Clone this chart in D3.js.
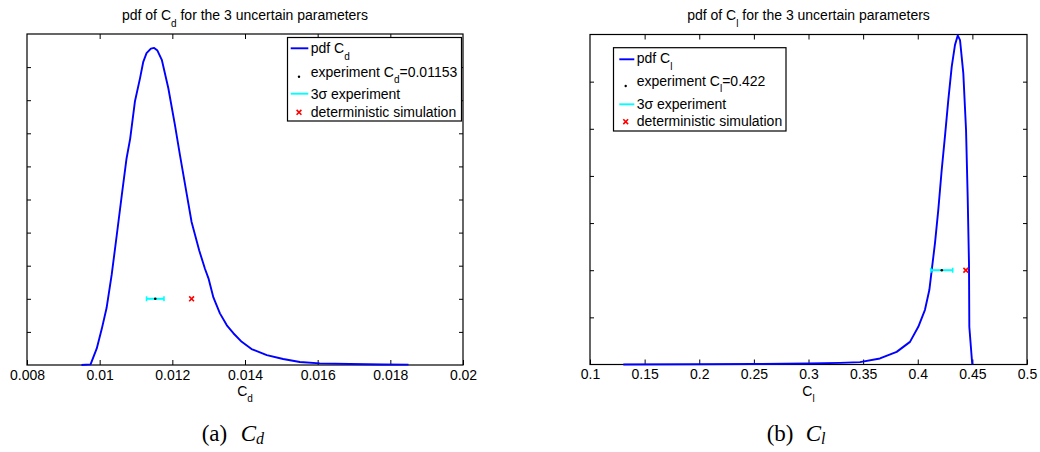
<!DOCTYPE html>
<html>
<head>
<meta charset="utf-8">
<script src="https://cdn.jsdelivr.net/npm/d3@7"></script>
<style>
  body { margin: 0; background: #fff; }
  svg { display: block; }
  text { font-family: "Liberation Sans", Arial, Helvetica, sans-serif; fill: #000; }
  .caption text, text.caption { font-family: "Liberation Serif", "Times New Roman", serif; }
</style>
</head>
<body>
<svg id="fig" width="1040" height="452"></svg>
<script>
// ---- C_d : sampled probability density ----
const cdValues = [0.0095, 0.00975, 0.00992, 0.01006, 0.01019, 0.01033, 0.01047, 0.01061, 0.01074,
  0.01084, 0.01097, 0.01111, 0.0112, 0.01129, 0.01141, 0.0115, 0.01159, 0.01171, 0.01189, 0.01207,
  0.01221, 0.0124, 0.01253, 0.01274, 0.0129, 0.013, 0.01313, 0.01331, 0.0135, 0.01368, 0.01391,
  0.01418, 0.0146, 0.01505, 0.01551, 0.01606, 0.01689, 0.0178, 0.0185];
const cdPdf = [0, 1, 25, 55, 86, 136, 196, 257, 312,
  342, 398, 433, 458, 471, 478, 479, 475, 461, 418, 363,
  317, 257, 216, 173, 145, 130, 102, 78, 60, 48, 35,
  24, 15, 9, 4.5, 2.5, 1.5, 0.8, 0.5];
const cdTicks = [0.008, 0.01, 0.012, 0.014, 0.016, 0.018, 0.02];
const cdTickLabels = ["0.008", "0.01", "0.012", "0.014", "0.016", "0.018", "0.02"];
const cdPdfTicks = [0, 50, 100, 150, 200, 250, 300, 350, 400, 450, 500];
const cdExperiment = 0.01153;
const cdThreeSigma = 0.00024;
const cdSimulation = 0.01253;
const cdMarkerLevel = 100;

// ---- C_l : sampled probability density ----
const clValues = [0.1305, 0.2, 0.25, 0.3, 0.3288, 0.3471, 0.3654, 0.3807, 0.3929, 0.4005, 0.4066,
  0.4106, 0.4128, 0.4158, 0.4188, 0.4219, 0.4249, 0.428, 0.4311, 0.4341, 0.4366, 0.4387, 0.4417,
  0.4442, 0.4457, 0.4469, 0.4472, 0.4499];
const clPdf = [0, 0.02, 0.05, 0.1, 0.17, 0.25, 0.64, 1.34, 2.4, 4.0, 5.8,
  7.9, 10.0, 12.9, 16.4, 20.6, 24.2, 28.1, 31.6, 33.9, 34.9, 34.4, 30.9,
  24.9, 17.8, 10.7, 4.0, 0];
const clTicks = [0.1, 0.15, 0.2, 0.25, 0.3, 0.35, 0.4, 0.45, 0.5];
const clTickLabels = ["0.1", "0.15", "0.2", "0.25", "0.3", "0.35", "0.4", "0.45", "0.5"];
const clPdfTicks = [0, 5, 10, 15, 20, 25, 30, 35];
const clExperiment = 0.422;
const clThreeSigma = 0.01;
const clSimulation = 0.444;
const clMarkerLevel = 10;

const svg = d3.select("#fig");

// Text with an optional subscript part: parts = [[text, isSub], ...]
function richText(g, x, y, parts, opts) {
  const o = Object.assign({ size: 14, subSize: 10, subShift: 6.5, anchor: "start" }, opts || {});
  const t = g.append("text").attr("x", x).attr("y", y)
    .attr("text-anchor", o.anchor).style("font-size", o.size + "px");
  let shifted = 0;
  parts.forEach(([s, sub]) => {
    const target = sub ? o.subShift : 0;
    t.append("tspan").attr("dy", target - shifted)
      .style("font-size", (sub ? o.subSize : o.size) + "px").text(s);
    shifted = target;
  });
  return t;
}

function drawPanel(p) {
  const g = svg.append("g");
  const x = d3.scaleLinear().domain([p.xTicks[0], p.xTicks[p.xTicks.length - 1]]).range([p.left, p.right]);
  const y = d3.scaleLinear().domain([0, p.yTicks[p.yTicks.length - 1]]).range([p.bottom, p.top]);
  const inner = p.yTicks.slice(1, -1);

  // Axes with inward ticks on all four sides
  const bottomAx = g.append("g").attr("transform", `translate(0,${p.bottom})`)
    .call(d3.axisBottom(x).tickValues(p.xTicks).tickFormat((d, i) => p.xLabels[i])
      .tickSizeInner(-5).tickSizeOuter(0).tickPadding(4.8));
  const topAx = g.append("g").attr("transform", `translate(0,${p.top})`)
    .call(d3.axisTop(x).tickValues(p.xTicks.slice(1, -1)).tickFormat("").tickSizeInner(-5).tickSizeOuter(0));
  const leftAx = g.append("g").attr("transform", `translate(${p.left},0)`)
    .call(d3.axisLeft(y).tickValues(inner).tickFormat("").tickSizeInner(-4).tickSizeOuter(0));
  const rightAx = g.append("g").attr("transform", `translate(${p.right},0)`)
    .call(d3.axisRight(y).tickValues(inner).tickFormat("").tickSizeInner(-4).tickSizeOuter(0));
  [bottomAx, topAx, leftAx, rightAx].forEach(a => {
    a.select(".domain").remove();
    a.selectAll(".tick line").attr("stroke", "#000").attr("stroke-width", 1);
  });
  bottomAx.selectAll(".tick text").style("font-size", "14px").attr("fill", "#000")
    .style("font-family", '"Liberation Sans", Arial, sans-serif');

  g.append("rect").attr("x", p.left).attr("y", p.top)
    .attr("width", p.right - p.left).attr("height", p.bottom - p.top)
    .attr("fill", "none").attr("stroke", "#000").attr("stroke-width", 1.2);

  // Density curve
  const pts = p.xs.map((v, i) => [v, p.ys[i]]);
  g.append("path").datum(pts)
    .attr("d", d3.line().x(d => x(d[0])).y(d => y(d[1])))
    .attr("fill", "none").attr("stroke", "#0000ff").attr("stroke-width", 1.9)
    .attr("stroke-linejoin", "round");

  // Experiment with 3-sigma bar, and deterministic simulation
  const ly = y(p.level);
  const x0 = x(p.exp - p.sigma), x1 = x(p.exp + p.sigma);
  g.append("line").attr("x1", x0).attr("x2", x1).attr("y1", ly).attr("y2", ly)
    .attr("stroke", "#00ffff").attr("stroke-width", 2);
  [x0, x1].forEach(cx => g.append("line").attr("x1", cx).attr("x2", cx)
    .attr("y1", ly - 2.5).attr("y2", ly + 2.5).attr("stroke", "#00ffff").attr("stroke-width", 1.6));
  g.append("circle").attr("cx", x(p.exp)).attr("cy", ly).attr("r", 1.3).attr("fill", "#000");
  cross(g, x(p.sim), ly);

  // Title and x label
  richText(g, (p.left + p.right) / 2, 20, [["pdf of C", false], [p.sub, true], [" for the 3 uncertain parameters", false]],
    { anchor: "middle", size: 14, subSize: 10, subShift: 6.5 });
  richText(g, (p.left + p.right) / 2, 395.5, [["C", false], [p.sub, true]],
    { anchor: "middle", size: 14, subSize: 10, subShift: 6 });

  // Legend
  const L = p.legend;
  g.append("rect").attr("x", L.x0).attr("y", L.y0).attr("width", L.x1 - L.x0).attr("height", L.y1 - L.y0)
    .attr("fill", "#fff").attr("stroke", "#000").attr("stroke-width", 1.2);
  g.append("line").attr("x1", L.lx0).attr("x2", L.lx1).attr("y1", L.my[0]).attr("y2", L.my[0])
    .attr("stroke", "#0000ff").attr("stroke-width", 1.9);
  g.append("circle").attr("cx", L.mx).attr("cy", L.my[1]).attr("r", 1.2).attr("fill", "#000");
  g.append("line").attr("x1", L.lx0).attr("x2", L.lx1).attr("y1", L.my[2]).attr("y2", L.my[2])
    .attr("stroke", "#00ffff").attr("stroke-width", 1.9);
  cross(g, L.mx, L.my[3]);
  const o = { size: 14, subSize: 10, subShift: 6.5 };
  richText(g, L.tx, L.ty[0], [["pdf C", false], [p.sub, true]], o);
  richText(g, L.tx, L.ty[1], [["experiment C", false], [p.sub, true], ["=" + p.expLabel, false]], o);
  richText(g, L.tx, L.ty[2], [["3\u03c3 experiment", false]], o);
  richText(g, L.tx, L.ty[3], [["deterministic simulation", false]], o);

  // Sub-figure caption
  const c = g.append("text").attr("class", "caption").attr("y", 440.7).style("font-size", "23px");
  c.append("tspan").attr("x", p.capX).text(p.capLabel);
  c.append("tspan").attr("x", p.capX + 39).style("font-style", "italic").text("C");
  c.append("tspan").attr("dy", 3.5).style("font-style", "italic").style("font-size", "16px").text(p.sub);
}

function cross(g, cx, cy) {
  const r = 2.4;
  g.append("path")
    .attr("d", `M${cx - r},${cy - r}L${cx + r},${cy + r}M${cx - r},${cy + r}L${cx + r},${cy - r}`)
    .attr("stroke", "#ff0000").attr("stroke-width", 1.6).attr("fill", "none");
}

drawPanel({
  left: 27, right: 463, top: 34, bottom: 365,
  xTicks: cdTicks, xLabels: cdTickLabels, yTicks: cdPdfTicks,
  xs: cdValues, ys: cdPdf,
  exp: cdExperiment, sigma: cdThreeSigma, sim: cdSimulation, level: cdMarkerLevel,
  sub: "d", expLabel: String(cdExperiment), capLabel: "(a)", capX: 201.7,
  legend: { x0: 287.5, y0: 37.5, x1: 461.5, y1: 121, lx0: 290.7, lx1: 308.3, mx: 299, tx: 310.7,
    my: [48.3, 76.7, 93.7, 112.3], ty: [53.3, 76.7, 99, 116.7] }
});

drawPanel({
  left: 590, right: 1027, top: 34.5, bottom: 364.5,
  xTicks: clTicks, xLabels: clTickLabels, yTicks: clPdfTicks,
  xs: clValues, ys: clPdf,
  exp: clExperiment, sigma: clThreeSigma, sim: clSimulation, level: clMarkerLevel,
  sub: "l", expLabel: String(clExperiment), capLabel: "(b)", capX: 766.7,
  legend: { x0: 613.5, y0: 47.7, x1: 786, y1: 131, lx0: 619.3, lx1: 634.3, mx: 625.7, tx: 636.7,
    my: [59.3, 86, 104.3, 121.7], ty: [63.3, 85.7, 109, 126.3] }
});
</script>
</body>
</html>
